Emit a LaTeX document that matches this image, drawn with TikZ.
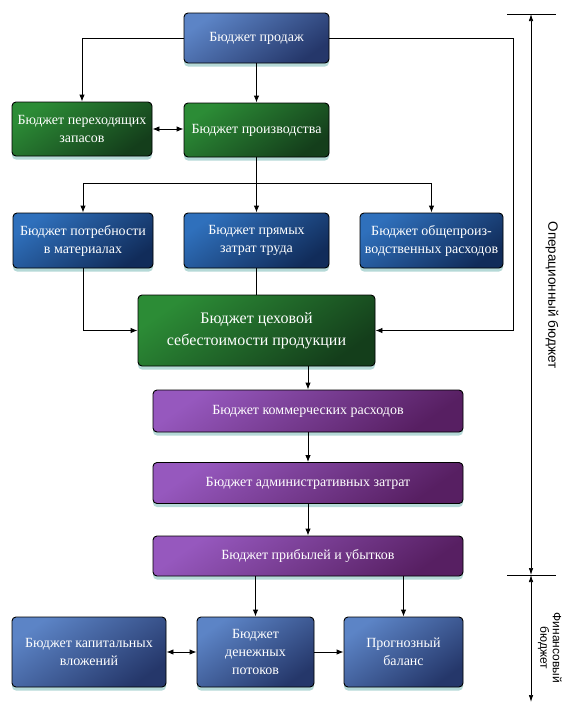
\documentclass[tikz,border=0pt]{standalone}
\usepackage{fontspec}
\setmainfont{Liberation Serif}
\setsansfont{Liberation Sans}
\usepackage{tikz}
\usetikzlibrary{arrows.meta, shadows}

\definecolor{salesTop}{HTML}{5C84C6}
\definecolor{salesBot}{HTML}{25376A}
\definecolor{greenTop}{HTML}{2C8C36}
\definecolor{greenBot}{HTML}{143E1B}
\definecolor{darkTop}{HTML}{2F70BC}
\definecolor{darkBot}{HTML}{112C5A}
\definecolor{violetTop}{HTML}{9658BE}
\definecolor{violetBot}{HTML}{571F62}
\definecolor{glow}{HTML}{A9D3D1}

\begin{document}
\begin{tikzpicture}[x=1pt, y=-1pt,
		budget/.style={draw=black, line width=0.9pt, rounded corners=4pt, inner sep=0pt, align=center, text=white,
			font=\fontsize{14}{18}\selectfont,
			drop shadow={shadow xshift=0pt, shadow yshift=-3.5pt, fill=glow, opacity=0.85}},
		bluebox/.style={budget, top color=salesTop, bottom color=salesBot, shading angle=35},
		greenbox/.style={budget, top color=greenTop, bottom color=greenBot, shading angle=35},
		darkbox/.style={budget, top color=darkTop, bottom color=darkBot, shading angle=35},
		violetbox/.style={budget, top color=violetTop, bottom color=violetBot, shading angle=35},
		link/.style={line width=0.9pt, -{Latex[length=7pt,width=5.5pt]}},
		twoway/.style={line width=0.9pt, {Latex[length=7pt,width=5.5pt]}-{Latex[length=7pt,width=5.5pt]}},
		scalearrow/.style={line width=0.7pt, {Latex[length=7pt,width=4.5pt]}-{Latex[length=7pt,width=4.5pt]}},
		sidelabel/.style={font=\sffamily\fontsize{13.5}{15}\selectfont, inner sep=0pt, align=center}]
				% Page
				\fill[white] (0,0) rectangle (562,704);
				\useasboundingbox (0,0) rectangle (562,704);
				
				% Operational budget boxes
				\node[bluebox, minimum width=145pt, minimum height=50pt] (sales) at (256.5,38) {Бюджет продаж};
				\node[greenbox, minimum width=140pt, minimum height=54pt] (stock) at (82,129) {Бюджет переходящих\\запасов};
				\node[greenbox, minimum width=145pt, minimum height=54pt] (prod) at (256.5,130) {Бюджет производства};
				\node[darkbox, minimum width=140pt, minimum height=55pt] (mat) at (83,240.5) {Бюджет потребности\\в материалах};
				\node[darkbox, minimum width=145pt, minimum height=55pt] (labor) at (256.5,240.5) {Бюджет прямых\\затрат труда};
				\node[darkbox, minimum width=143pt, minimum height=55pt] (overhead) at (431.5,240.5) {Бюджет общепроиз-\\водственных расходов};
				\node[greenbox, minimum width=237pt, minimum height=71pt, font=\fontsize{16}{22}\selectfont] (shop) at (256.5,330.5) {Бюджет цеховой\\себестоимости продукции};
				\node[violetbox, minimum width=310pt, minimum height=42pt] (comm) at (308,411) {Бюджет коммерческих расходов};
				\node[violetbox, minimum width=310pt, minimum height=41pt] (admin) at (308,483) {Бюджет административных затрат};
				\node[violetbox, minimum width=310pt, minimum height=40pt] (profit) at (308,556) {Бюджет прибылей и убытков};
				
				% Financial budget boxes
				\node[bluebox, minimum width=154pt, minimum height=70pt] (capex) at (89,652) {Бюджет капитальных\\вложений};
				\node[bluebox, minimum width=117pt, minimum height=70pt] (cash) at (255.5,652) {Бюджет\\денежных\\потоков};
				\node[bluebox, minimum width=119pt, minimum height=70pt] (balance) at (403.5,652) {Прогнозный\\баланс};
				
				% Connectors
				\coordinate (bus) at (256.5,183);
				\coordinate (rbend) at (513,38);
				\draw[link] (sales.west) -| (stock.north);
				\draw[link] (sales.south) -- (prod.north);
				\draw[twoway] (stock.east) -- (prod.west |- stock.east);
				\draw (prod.south) -- (bus);
				\draw[link] (bus) -| (mat.north);
				\draw[link] (bus) -- (labor.north);
				\draw[link] (bus) -| (overhead.north);
				\draw[link] (sales.east) -- (rbend) |- (shop.east);
				\draw[link] (mat.south) |- (shop.west);
				\draw[line width=0.9pt] (labor.south) -- (shop.north);
				\draw[link] (comm.north |- shop.south) -- (comm.north);
				\draw[link] (comm.south) -- (admin.north);
				\draw[link] (admin.south) -- (profit.north);
				\draw[link] (cash.north |- profit.south) -- (cash.north);
				\draw[link] (balance.north |- profit.south) -- (balance.north);
				\draw[twoway] (capex.east) -- (cash.west);
				\draw[link] (cash.east) -- (balance.west);
				
				% Scale on the right
				\coordinate (opTop) at (531,14);
				\coordinate (opMid) at (531,575);
				\coordinate (finBot) at (531,702);
				\draw[line width=0.9pt] ([xshift=-24pt]opTop) -- ([xshift=25pt]opTop);
				\draw[line width=0.9pt] ([xshift=-24pt]opMid) -- ([xshift=25pt]opMid);
				\draw[scalearrow] (opTop) -- (opMid);
				\draw[scalearrow] (opMid) -- (finBot);
				\node[sidelabel, rotate=-90] (oplabel) at (552,295) {Операционный бюджет};
				\node[sidelabel, rotate=-90, font=\sffamily\fontsize{12}{12.5}\selectfont] (finlabel) at (550,648) {Финансовый\\бюджет};
			\end{tikzpicture}
\end{document}
